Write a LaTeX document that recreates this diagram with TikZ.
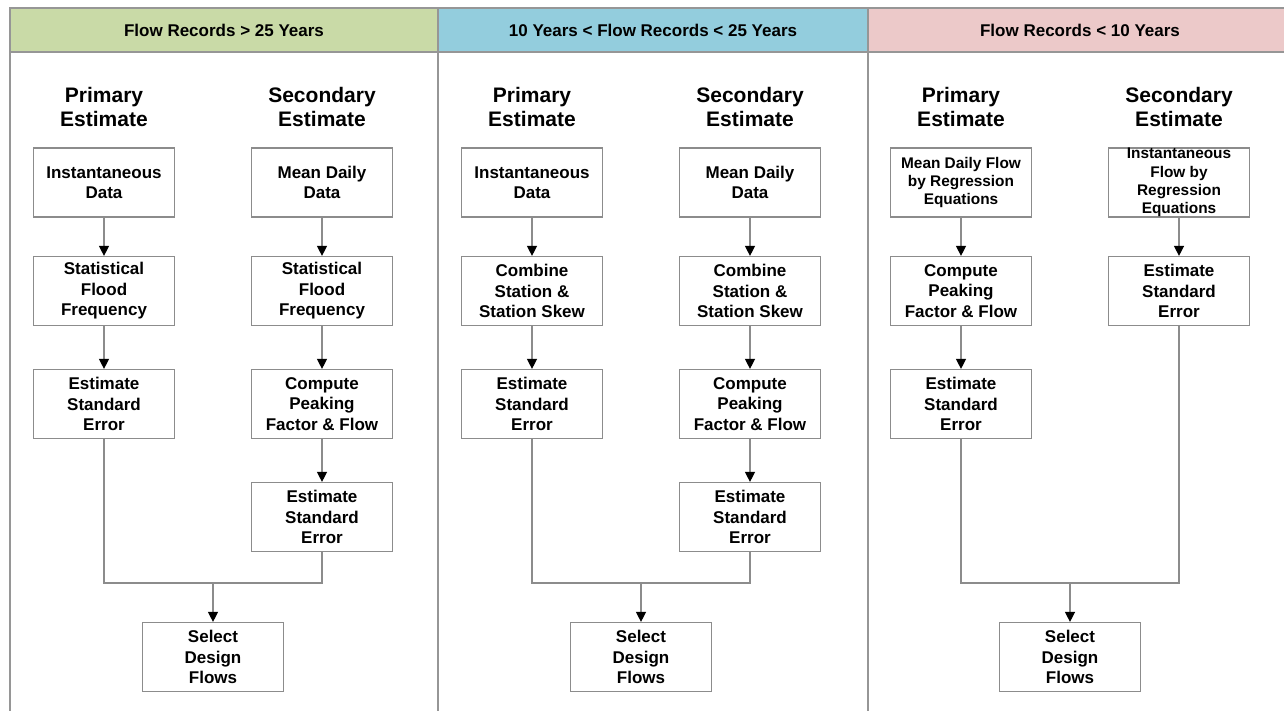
\documentclass[tikz,border=0pt]{standalone}
\usepackage{fontspec}
\setmainfont{Liberation Sans}
\usetikzlibrary{arrows.meta}

\definecolor{hdrgreen}{RGB}{201,218,167}
\definecolor{hdrblue}{RGB}{147,205,221}
\definecolor{hdrpink}{RGB}{236,201,201}
\definecolor{framegray}{RGB}{150,150,150}
\definecolor{linegray}{RGB}{140,140,140}

\begin{document}
\begin{tikzpicture}[x=1pt,y=-1pt,
  frame/.style={draw=framegray, line width=1.4pt},
  hdrtext/.style={font=\fontsize{17}{20}\selectfont\bfseries},
  colhead/.style={align=center, font=\fontsize{21}{24}\selectfont\bfseries},
  box/.style={draw=linegray, line width=1.2pt, fill=white,
    minimum width=141pt, minimum height=69pt, inner sep=0pt,
    align=center, font=\fontsize{17}{20.5}\selectfont\bfseries},
  smallbox/.style={box, font=\fontsize{15.4}{18.3}\selectfont\bfseries},
  link/.style={draw=linegray, line width=1.3pt},
  arrow/.style={link, -{Triangle[length=10pt,width=10pt,color=black]}}
]
\useasboundingbox (0,0) rectangle (1284,711);

% header bands
\fill[hdrgreen] (10,8) rectangle (438,52);
\fill[hdrblue]  (438,8) rectangle (868,52);
\fill[hdrpink]  (868,8) rectangle (1284,52);

% outer frame and column dividers
\draw[frame, line width=2pt] (9,8) -- (1284,8);
\draw[frame] (10,52) -- (1284,52);
\draw[frame] (10,8) -- (10,711);
\draw[frame] (438,8) -- (438,711);
\draw[frame] (868,8) -- (868,711);

% header labels
\node[hdrtext] (h1) at (224,30) {Flow Records > 25 Years};
\node[hdrtext] (h2) at (653,30) {10 Years < Flow Records < 25 Years};
\node[hdrtext] (h3) at (1080,30) {Flow Records < 10 Years};

% column headings
\node[colhead] (pa) at (104,107) {Primary\\Estimate};
\node[colhead] (sa) at (322,107) {Secondary\\Estimate};
\node[colhead] (pb) at (532,107) {Primary\\Estimate};
\node[colhead] (sb) at (750,107) {Secondary\\Estimate};
\node[colhead] (pc) at (961,107) {Primary\\Estimate};
\node[colhead] (sc) at (1179,107) {Secondary\\Estimate};

% ---------- records longer than 25 years ----------
\node[box] (a1) at (104,182.5) {Instantaneous\\Data};
\node[box] (a2) at (104,291) {Statistical\\Flood\\Frequency};
\node[box] (a3) at (104,404) {Estimate\\Standard\\Error};
\node[box] (b1) at (322,182.5) {Mean Daily\\Data};
\node[box] (b2) at (322,291) {Statistical\\Flood\\Frequency};
\node[box] (b3) at (322,404) {Compute\\Peaking\\Factor \& Flow};
\node[box] (b4) at (322,517) {Estimate\\Standard\\Error};
\node[box] (s1) at (213,657) {Select\\Design\\Flows};
\coordinate (m1) at (213,583);

\draw[arrow] (a1) -- (a2);
\draw[arrow] (a2) -- (a3);
\draw[arrow] (b1) -- (b2);
\draw[arrow] (b2) -- (b3);
\draw[arrow] (b3) -- (b4);
\draw[link] (a3.south) |- (m1) -| (b4.south);
\draw[arrow] (m1) -- (s1.north);

% ---------- records between 10 and 25 years ----------
\node[box] (c1) at (532,182.5) {Instantaneous\\Data};
\node[box] (c2) at (532,291) {Combine\\Station \&\\Station Skew};
\node[box] (c3) at (532,404) {Estimate\\Standard\\Error};
\node[box] (d1) at (750,182.5) {Mean Daily\\Data};
\node[box] (d2) at (750,291) {Combine\\Station \&\\Station Skew};
\node[box] (d3) at (750,404) {Compute\\Peaking\\Factor \& Flow};
\node[box] (d4) at (750,517) {Estimate\\Standard\\Error};
\node[box] (s2) at (641,657) {Select\\Design\\Flows};
\coordinate (m2) at (641,583);

\draw[arrow] (c1) -- (c2);
\draw[arrow] (c2) -- (c3);
\draw[arrow] (d1) -- (d2);
\draw[arrow] (d2) -- (d3);
\draw[arrow] (d3) -- (d4);
\draw[link] (c3.south) |- (m2) -| (d4.south);
\draw[arrow] (m2) -- (s2.north);

% ---------- records shorter than 10 years ----------
\node[smallbox] (e1) at (961,182.5) {Mean Daily Flow\\by Regression\\Equations};
\node[box] (e2) at (961,291) {Compute\\Peaking\\Factor \& Flow};
\node[box] (e3) at (961,404) {Estimate\\Standard\\Error};
\node[smallbox] (f1) at (1179,182.5) {Instantaneous\\Flow by\\Regression\\Equations};
\node[box] (f2) at (1179,291) {Estimate\\Standard\\Error};
\node[box] (s3) at (1070,657) {Select\\Design\\Flows};
\coordinate (m3) at (1070,583);

\draw[arrow] (e1) -- (e2);
\draw[arrow] (e2) -- (e3);
\draw[arrow] (f1) -- (f2);
\draw[link] (e3.south) |- (m3) -| (f2.south);
\draw[arrow] (m3) -- (s3.north);
\end{tikzpicture}
\end{document}
